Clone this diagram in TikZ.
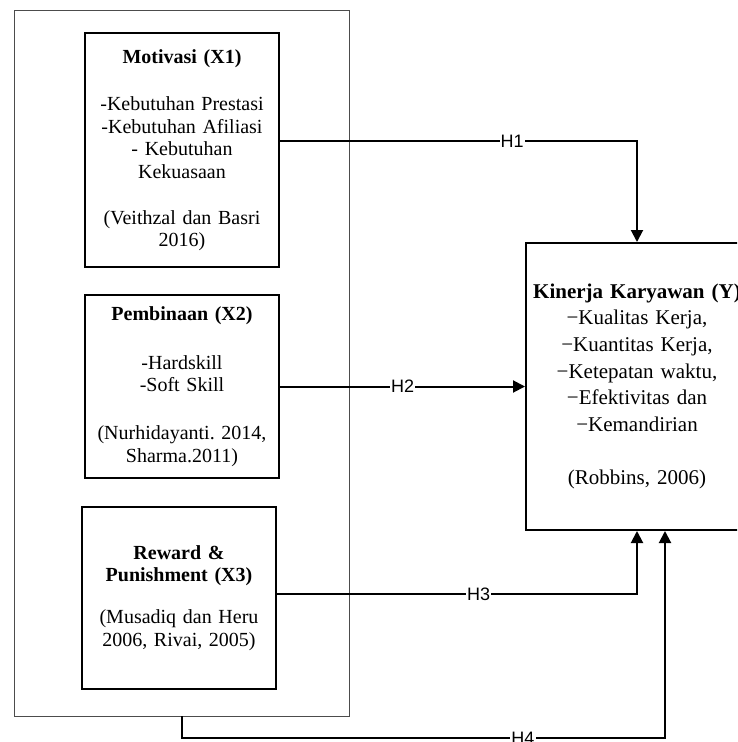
\documentclass[tikz,border=0pt]{standalone}
\usepackage{fontspec}
\setmainfont{Liberation Serif}
\newfontfamily\hypfont{Liberation Sans}
\usetikzlibrary{arrows.meta,positioning}
\frenchspacing

\begin{document}
\begin{tikzpicture}[x=1pt,y=1pt,
  varbox/.style={draw,line width=2.4pt,minimum width=194pt,text width=186pt,align=center,inner sep=0pt,font=\fontsize{20}{22.5}\selectfont},
  conn/.style={line width=2pt,-{Triangle[length=12pt,width=12pt]}},
  hyp/.style={fill=white,inner sep=1pt,font=\hypfont\fontsize{18}{20}\selectfont}]
\useasboundingbox (0,0) rectangle (737,-742);
\clip (0,0) rectangle (737,-742);
% frame round the three variables
\node[draw=black!70,line width=0.8pt,minimum width=335pt,minimum height=706pt] (frame) at (181.5,-363) {};
\node[varbox,minimum height=234pt] (X1) at (182,-150) {\textbf{Motivasi (X1)}\\[25pt]
  -Kebutuhan Prestasi\\ -Kebutuhan Afiliasi\\ - Kebutuhan\\ Kekuasaan\\[23.5pt]
  (Veithzal dan Basri\\ 2016)};
\node[varbox,minimum height=183pt] (X2) at (182,-386.5) {\textbf{Pembinaan (X2)}\\[26.5pt]
  -Hardskill\\ -Soft Skill\\[25.5pt]
  (Nurhidayanti. 2014,\\ Sharma.2011)};
\node[varbox,minimum height=182pt] (X3) at (179,-598) {\textbf{Reward \&}\\ \textbf{Punishment (X3)}\\[19.5pt]
  (Musadiq dan Heru\\ 2006, Rivai, 2005)};
% dependent variable
\node[draw,line width=2pt,minimum width=222pt,minimum height=287pt,text width=216pt,align=center,inner sep=0pt,
  font=\fontsize{21}{26.6}\selectfont] (Y) at (637,-386.5) {\makebox[\linewidth]{\textbf{Kinerja Karyawan (Y)}}\\
  −Kualitas Kerja,\\ −Kuantitas Kerja,\\ −Ketepatan waktu,\\ −Efektivitas dan\\ −Kemandirian\\[27pt]
  (Robbins, 2006)};
% hypotheses
\draw[conn] ([yshift=9pt]X1.east) -| node[hyp,pos=0.325]{H1} (Y.north);
\draw[conn] (X2.east) -- node[hyp]{H2} (Y.west);
\draw[conn] ([yshift=4pt]X3.east) -| node[hyp,pos=0.28]{H3} (Y.south);
\draw[conn] (X2.south |- frame.south) -- ++(0,-22) -| node[hyp,pos=0.353]{H4} ([xshift=28pt]Y.south);
\end{tikzpicture}
\end{document}
